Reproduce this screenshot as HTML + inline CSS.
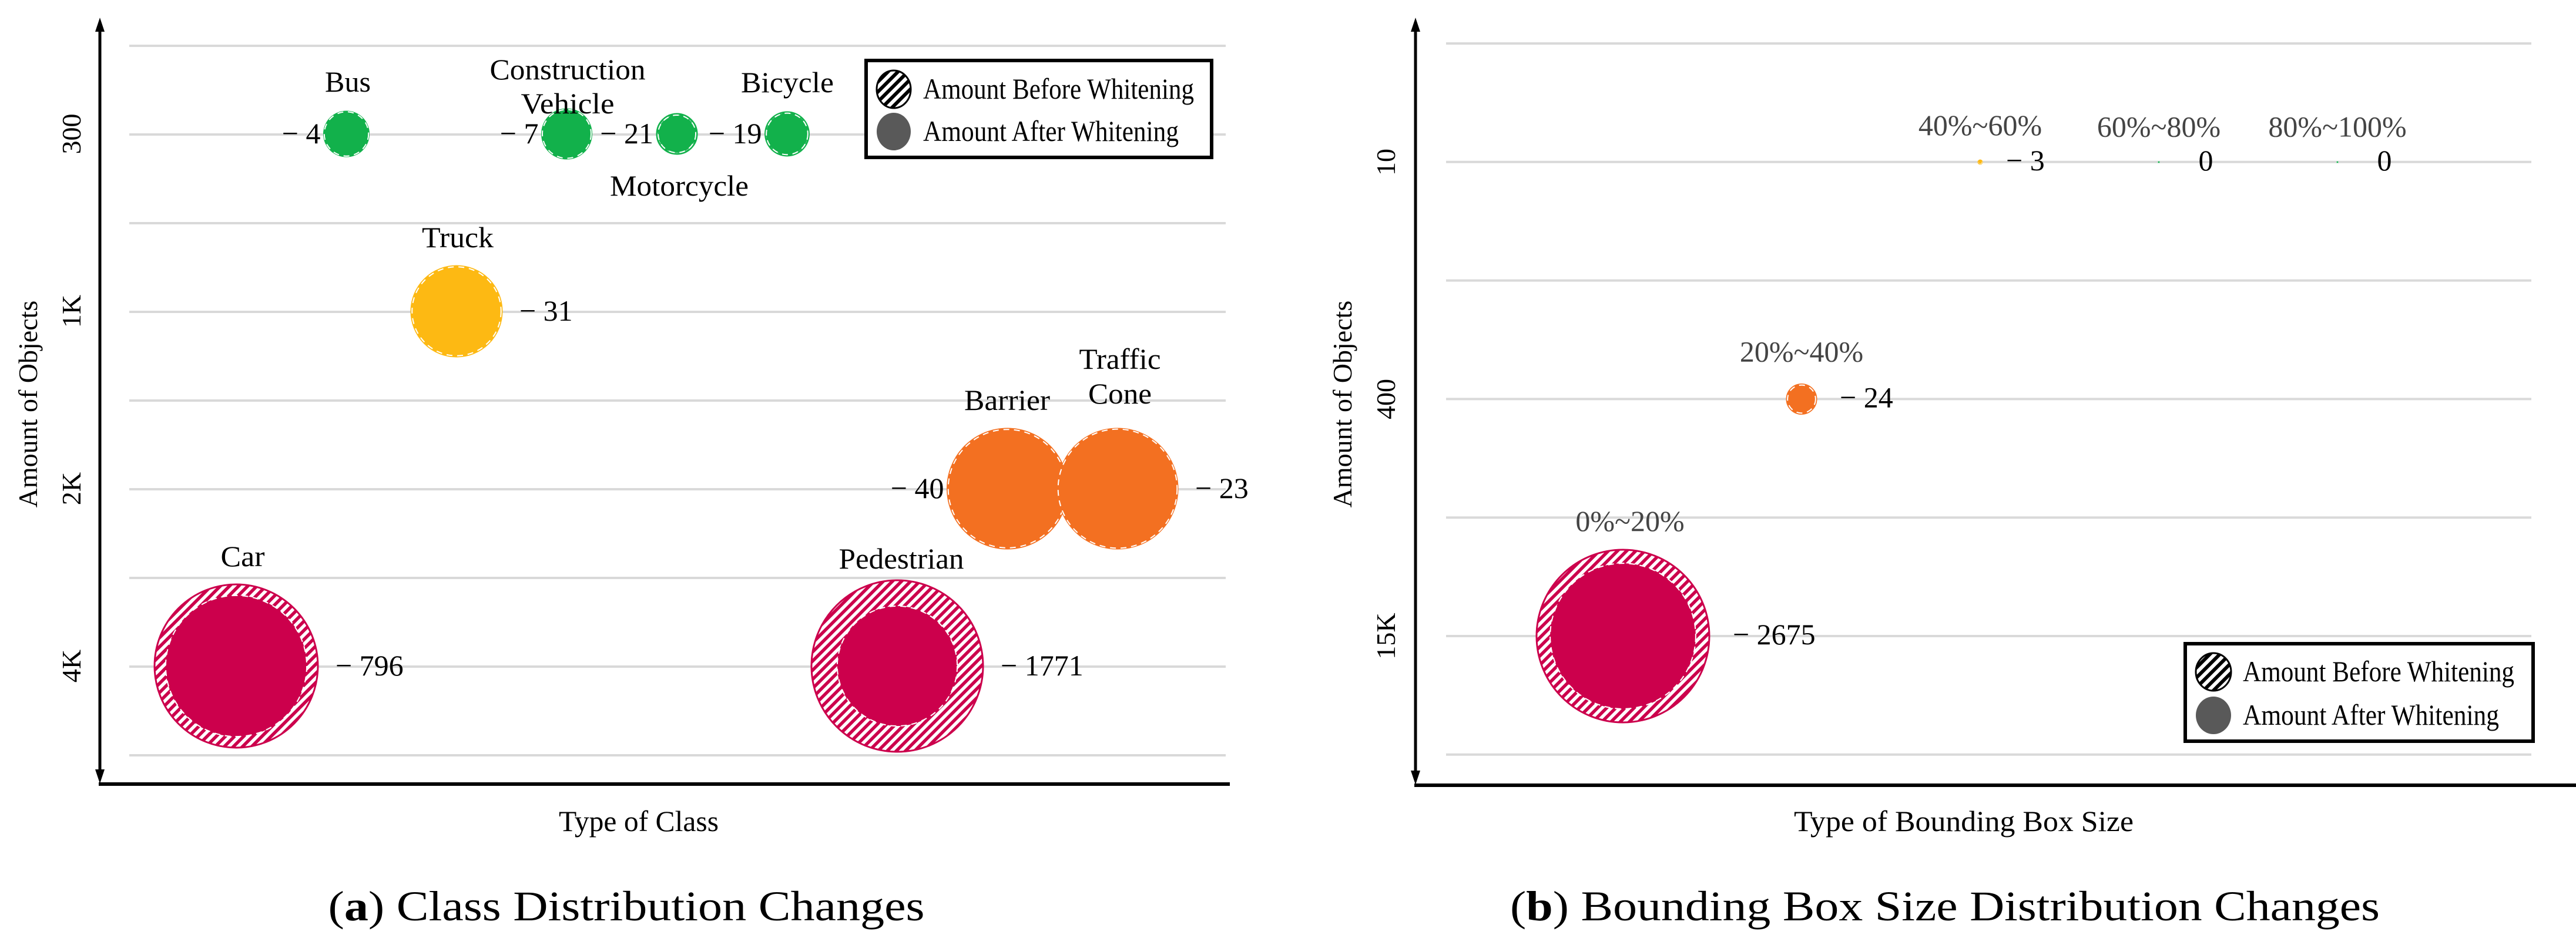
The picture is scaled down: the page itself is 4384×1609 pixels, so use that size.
<!DOCTYPE html>
<html><head><meta charset="utf-8"><style>
html,body{margin:0;padding:0;background:#fff;}
svg{display:block;}
.lbl{font-family:"Liberation Serif",serif;font-size:50px;fill:#000;}
.glbl{font-family:"Liberation Serif",serif;font-size:50px;fill:#444;}
.tick{font-family:"Liberation Serif",serif;font-size:46px;fill:#000;}
.cap{font-family:"Liberation Serif",serif;font-size:72px;fill:#000;}
</style></head><body>
<svg id="chart" width="4384" height="1609" viewBox="0 0 4384 1609" xmlns="http://www.w3.org/2000/svg">
<defs>
<pattern id="hatchC" patternUnits="userSpaceOnUse" width="11" height="11" patternTransform="rotate(45)"><rect width="11" height="11" fill="#fff"/><rect width="5.5" height="11" fill="#cc004c"/></pattern>
<pattern id="hatchG" patternUnits="userSpaceOnUse" width="11" height="11" patternTransform="rotate(45)"><rect width="11" height="11" fill="#fff"/><rect width="5.5" height="11" fill="#12b14b"/></pattern>
<pattern id="hatchY" patternUnits="userSpaceOnUse" width="11" height="11" patternTransform="rotate(45)"><rect width="11" height="11" fill="#fff"/><rect width="5.5" height="11" fill="#fdb913"/></pattern>
<pattern id="hatchO" patternUnits="userSpaceOnUse" width="11" height="11" patternTransform="rotate(45)"><rect width="11" height="11" fill="#fff"/><rect width="5.5" height="11" fill="#f37021"/></pattern>
<pattern id="hatchK" patternUnits="userSpaceOnUse" width="12" height="12" patternTransform="rotate(45)"><rect width="12" height="12" fill="#fff"/><rect width="6" height="12" fill="#000"/></pattern>
</defs>

<!-- ===== Panel A ===== -->
<g id="panelA">
<g id="gridA"></g>
<line x1="170" y1="44" x2="170" y2="1322" stroke="#000" stroke-width="5"/>
<polygon points="170,30 162,54 178,54" fill="#000"/>
<polygon points="170,1334 162,1310 178,1310" fill="#000"/>
<line x1="168" y1="1335" x2="2093" y2="1335" stroke="#000" stroke-width="6"/>
<text class="tick" transform="translate(63,688) rotate(-90)" text-anchor="middle" font-size="48">Amount of Objects</text>
<g id="ticksA"></g>
<g id="bubblesA"></g>
<text class="lbl" x="592" y="156" text-anchor="middle" textLength="78">Bus</text>
<text class="lbl" x="966" y="135" text-anchor="middle" textLength="265" lengthAdjust="spacingAndGlyphs">Construction</text>
<text class="lbl" x="966" y="193" text-anchor="middle" textLength="159" lengthAdjust="spacingAndGlyphs">Vehicle</text>
<text class="lbl" x="1340" y="157" text-anchor="middle" textLength="158" lengthAdjust="spacingAndGlyphs">Bicycle</text>
<text class="lbl" x="1156" y="333" text-anchor="middle" textLength="236" lengthAdjust="spacingAndGlyphs">Motorcycle</text>
<text class="lbl" x="779" y="421" text-anchor="middle" textLength="122" lengthAdjust="spacingAndGlyphs">Truck</text>
<text class="lbl" x="1906" y="628" text-anchor="middle" textLength="139" lengthAdjust="spacingAndGlyphs">Traffic</text>
<text class="lbl" x="1906" y="687" text-anchor="middle" textLength="108" lengthAdjust="spacingAndGlyphs">Cone</text>
<text class="lbl" x="1714" y="698" text-anchor="middle" textLength="146" lengthAdjust="spacingAndGlyphs">Barrier</text>
<text class="lbl" x="413" y="964" text-anchor="middle" textLength="75" lengthAdjust="spacingAndGlyphs">Car</text>
<text class="lbl" x="1534" y="968" text-anchor="middle" textLength="213" lengthAdjust="spacingAndGlyphs">Pedestrian</text>
<g>
<rect x="1474" y="103" width="588" height="165" fill="#fff" stroke="#000" stroke-width="6"/>
<ellipse cx="1521" cy="152" rx="29" ry="32" fill="url(#hatchK)" stroke="#000" stroke-width="3"/>
<ellipse cx="1521" cy="224" rx="29" ry="32" fill="#595959"/>
<text class="lbl" x="1571" y="168" textLength="461" lengthAdjust="spacingAndGlyphs" font-size="48">Amount Before Whitening</text>
<text class="lbl" x="1571" y="240" textLength="435" lengthAdjust="spacingAndGlyphs" font-size="48">Amount After Whitening</text>
</g>
<text class="lbl" x="1087" y="1415" text-anchor="middle" textLength="272" lengthAdjust="spacingAndGlyphs">Type of Class</text>
<text class="cap" x="1066" y="1567" text-anchor="middle" textLength="1015" lengthAdjust="spacingAndGlyphs">(<tspan font-weight="bold">a</tspan>) Class Distribution Changes</text>
</g>

<!-- ===== Panel B ===== -->
<g id="panelB">
<g id="gridB"></g>
<line x1="2409" y1="44" x2="2409" y2="1322" stroke="#000" stroke-width="5"/>
<polygon points="2409,30 2401,54 2417,54" fill="#000"/>
<polygon points="2409,1336 2401,1312 2417,1312" fill="#000"/>
<line x1="2407" y1="1337" x2="4384" y2="1337" stroke="#000" stroke-width="6"/>
<text class="tick" transform="translate(2300,688) rotate(-90)" text-anchor="middle" font-size="48">Amount of Objects</text>
<g id="ticksB"></g>
<g id="bubblesB"></g>
<g>
<rect x="3719" y="1096" width="592" height="166" fill="#fff" stroke="#000" stroke-width="6"/>
<ellipse cx="3767" cy="1144" rx="30" ry="32" fill="url(#hatchK)" stroke="#000" stroke-width="3"/>
<ellipse cx="3767" cy="1218" rx="30" ry="32" fill="#595959"/>
<text class="lbl" x="3817" y="1160" textLength="462" lengthAdjust="spacingAndGlyphs" font-size="48">Amount Before Whitening</text>
<text class="lbl" x="3817" y="1234" textLength="436" lengthAdjust="spacingAndGlyphs" font-size="48">Amount After Whitening</text>
</g>
<text class="lbl" x="3342" y="1415" text-anchor="middle" textLength="578" lengthAdjust="spacingAndGlyphs">Type of Bounding Box Size</text>
<text class="cap" x="3310" y="1567" text-anchor="middle" textLength="1480" lengthAdjust="spacingAndGlyphs">(<tspan font-weight="bold">b</tspan>) Bounding Box Size Distribution Changes</text>
</g>
</svg>
<script>
// ---- Panel A data ----
const classNames = ["Car","Bus","Truck","Construction Vehicle","Motorcycle","Bicycle","Pedestrian","Barrier","Traffic Cone"];
const classLevel = [4000,300,1000,300,300,300,4000,2000,2000];
const classBefore = [3140,235,964,287,188,222,3466,1692,1692];
const classRemoved = [796,4,31,7,21,19,1771,40,23];
const classColors = ["crimson","green","yellow","green","green","green","crimson","orange","orange"];
const tickValuesA = [300,1000,2000,4000];
const tickLabelsA = ["300","1K","2K","4K"];
const valueSideA = ["right","left","right","left","left","left","right","left","right"];
// ---- Panel B data ----
const sizeNames = ["0%~20%","20%~40%","40%~60%","60%~80%","80%~100%"];
const sizeLevel = [15000,400,10,10,10];
const sizeBefore = [9230,267,7,1,1];
const sizeRemoved = [2675,24,3,0,0];
const sizeColors = ["crimson","orange","yellow","green","green"];
const tickValuesB = [10,400,15000];
const tickLabelsB = ["10","400","15K"];

const NS="http://www.w3.org/2000/svg";
const col={crimson:"#cc004c",green:"#12b14b",yellow:"#fdb913",orange:"#f37021"};
const hatch={crimson:"url(#hatchC)",green:"url(#hatchG)",yellow:"url(#hatchY)",orange:"url(#hatchO)"};
function mk(tag,attrs,parent){const e=document.createElementNS(NS,tag);for(const k in attrs)e.setAttribute(k,attrs[k]);parent.appendChild(e);return e;}
function levelScale(ticks,y0,step){return function(v){
  let i=0;while(i<ticks.length-2&&v>ticks[i+1])i++;
  const t=(Math.log(v)-Math.log(ticks[i]))/(Math.log(ticks[i+1])-Math.log(ticks[i]));
  return y0+(i+t)*step;};}

const xA=i=>402+i*187.5;
const yA=levelScale(tickValuesA,228,302);
const rA=c=>2.48*Math.sqrt(c);
const xB=i=>2762+i*304;
const yB=levelScale(tickValuesB,276,403.5);
const rB=c=>1.53*Math.sqrt(c);

const gA=document.getElementById("gridA");
for(let k=0;k<9;k++){const l=mk("line",{x1:220,x2:2086,y1:78+k*151,y2:78+k*151,stroke:"#d9d9d9","stroke-width":4},gA);

}
const gB=document.getElementById("gridB");
for(let k=0;k<7;k++){const l=mk("line",{x1:2461,x2:4308,y1:74+k*201.8,y2:74+k*201.8,stroke:"#d9d9d9","stroke-width":4},gB);

}

const tA=document.getElementById("ticksA");
tickValuesA.forEach((v,i)=>{const y=yA(v);const t=mk("text",{class:"tick",transform:`translate(137,${y}) rotate(-90)`,"text-anchor":"middle"},tA);t.textContent=tickLabelsA[i];

});
const tB=document.getElementById("ticksB");
tickValuesB.forEach((v,i)=>{const y=yB(v);const t=mk("text",{class:"tick",transform:`translate(2374,${y}) rotate(-90)`,"text-anchor":"middle"},tB);t.textContent=tickLabelsB[i];

});

function bubble(parent,cx,cy,rOut,rIn,c){
  const g=mk("g",{},parent);
  
  
  const o=mk("circle",{cx:cx,cy:cy,r:Math.max(rOut,1),fill:hatch[c],stroke:col[c],"stroke-width":Math.min(3,Math.max(rOut/6,0.8))},g);
  
  
  const inr=mk("circle",{cx:cx,cy:cy,r:Math.max(rIn,0.8),fill:col[c],stroke:"#fff","stroke-width":rIn>10?2:0.5,"stroke-dasharray":"10 8"},g);
  
  
}
const bA=document.getElementById("bubblesA");
classNames.forEach((n,i)=>{
  const cx=xA(i),cy=yA(classLevel[i]);
  const ro=rA(classBefore[i]),ri=rA(classBefore[i]-classRemoved[i]);
  bubble(bA,cx,cy,ro,ri,classColors[i]);
  const left=valueSideA[i]==="left";
  const t=mk("text",{class:"lbl",x:left?cx-ro-6:cx+ro+30,y:cy+16,"text-anchor":left?"end":"start"},bA);
  t.textContent="\u2212 "+classRemoved[i];
  
  
});
const bB=document.getElementById("bubblesB");
const labOff=[32,39,42,42,42];
sizeNames.forEach((n,i)=>{
  const cx=xB(i),cy=yB(sizeLevel[i]);
  const ro=rB(sizeBefore[i]),ri=rB(sizeBefore[i]-sizeRemoved[i]);
  bubble(bB,cx,cy,ro,ri,sizeColors[i]);
  const lab=mk("text",{class:"glbl",x:cx+(i===0?12:0),y:cy-ro-labOff[i],"text-anchor":"middle"},bB);
  lab.textContent=n;
  
  
  const v=mk("text",{class:"lbl",x:sizeRemoved[i]>0?cx+ro+40:cx+80,y:cy+14,"text-anchor":sizeRemoved[i]>0?"start":"middle"},bB);
  v.textContent=sizeRemoved[i]>0?"\u2212 "+sizeRemoved[i]:"0";
  
  
});
</script>
</body></html>
